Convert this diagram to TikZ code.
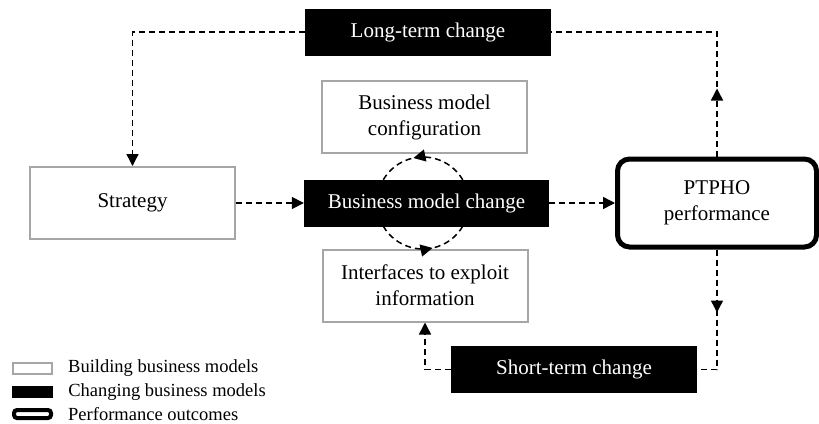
\documentclass[tikz,border=0pt]{standalone}
\usepackage{fontspec}
\setmainfont{Liberation Serif}
\usetikzlibrary{positioning,arrows.meta,decorations.markings,calc}
\definecolor{cgris}{HTML}{A6A6A6}
\tikzset{
  caja/.style={rectangle, draw=cgris, line width=2pt, fill=white, inner sep=0pt,
    minimum width=205pt, minimum height=72pt, align=center, font=\fontsize{21}{26}\selectfont},
  cajan/.style={rectangle, fill=black, text=white, inner sep=0pt,
    minimum width=246pt, minimum height=47pt, font=\fontsize{21}{26}\selectfont},
  cajar/.style={rectangle, rounded corners=12pt, draw=black, line width=5pt, fill=white, inner sep=0pt,
    minimum width=199pt, minimum height=88pt, align=center, font=\fontsize{21}{26}\selectfont},
  trazo/.style={line width=1.5pt, dash pattern=on 6pt off 4pt},
  flecha/.style={trazo, -{Triangle[length=12pt,width=12pt]}},
  punta/.style={postaction={decorate}, decoration={markings,
    mark=at position #1 with {\arrow{Triangle[length=12pt,width=12pt]}}}},
  ley/.style={font=\fontsize{18.5}{22}\selectfont, inner sep=0pt},
}
\begin{document}
\begin{tikzpicture}[x=1pt, y=1pt]
  \useasboundingbox (0,0) rectangle (819,-423);
  % cajas principales
  \node[cajan] (largo) at (428,-32) {Long-term change};
  \node[caja] (config) at (424.5,-117) {Business model\\configuration};
  \node[caja] (estrategia) at (132.5,-203) {Strategy};
  \node[cajan, minimum width=245pt] (cambio) at (426.5,-203) {Business model change};
  \node[cajar] (perf) at (717,-203) {PTPHO\\performance};
  \node[caja] (interfaz) at (425,-285.5) {Interfaces to exploit\\information};
  \node[cajan] (corto) at (574,-369.5) {Short-term change};
  % bucle alrededor del cambio
  \coordinate (ctr) at (423,-203);
  \draw[trazo, punta=0.6] ($(ctr)+(30:46pt)$) arc[start angle=30, end angle=150, radius=46pt];
  \draw[trazo, punta=0.6] ($(ctr)+(210:46pt)$) arc[start angle=210, end angle=330, radius=46pt];
  % conexiones
  \draw[flecha] (largo.west) -| (estrategia.north);
  \draw[trazo, punta=68pt] (perf.north) |- (largo.east);
  \draw[flecha] (estrategia.east) -- (cambio.west);
  \draw[flecha] (cambio.east) -- (perf.west);
  \draw[trazo, punta=63pt] (perf.south) |- (corto.east);
  \draw[flecha] (corto.west) -| (interfaz.south);
  % leyenda
  \node[draw=cgris, line width=2pt, inner sep=0pt, minimum width=39pt, minimum height=11pt] (l1) at (32.5,-368.5) {};
  \node[fill=black, inner sep=0pt, minimum width=41pt, minimum height=12pt] (l2) at (32.5,-392) {};
  \node[draw, line width=4pt, rounded corners=3pt, inner sep=0pt, minimum width=37pt, minimum height=8pt] (l3) at (32.5,-414) {};
  \node[ley, right=15pt of l1] {Building business models};
  \node[ley, right=15pt of l2] {Changing business models};
  \node[ley, right=15pt of l3] {Performance outcomes};
\end{tikzpicture}
\end{document}
